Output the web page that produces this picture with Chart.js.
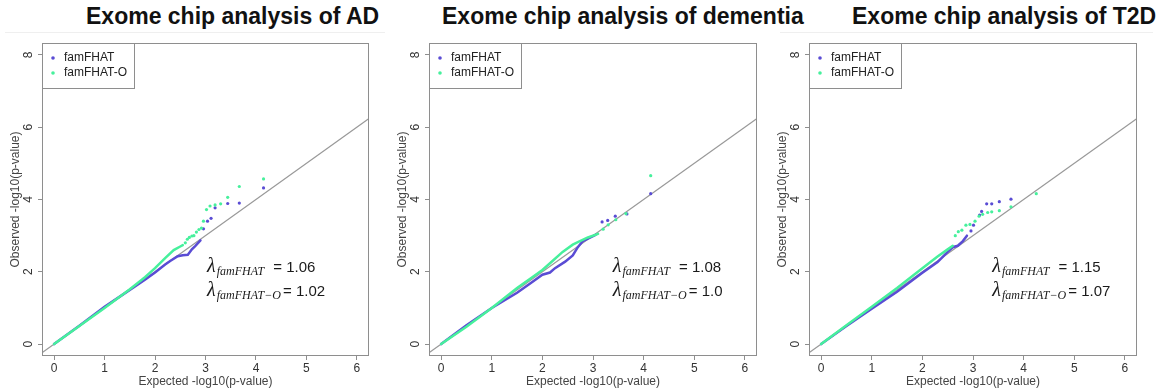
<!DOCTYPE html>
<html>
<head>
<meta charset="utf-8">
<script src="https://cdn.jsdelivr.net/npm/chart.js@4.4.1/dist/chart.umd.min.js"></script>
<style>
  body { margin: 0; background: #fff; width: 1163px; height: 392px; position: relative; overflow: hidden;
         font-family: "Liberation Sans", Arial, sans-serif; }
  .title { position: absolute; top: 5px; font-weight: bold; font-size: 23px; line-height: 23px; color: #111; white-space: nowrap; }
  .rule { position: absolute; top: 32px; height: 1px; background: #efefef; }
  canvas { position: absolute; top: 0; }
</style>
</head>
<body>
<div class="rule" style="left:5px;width:380px"></div>
<div class="rule" style="left:780px;width:373px"></div>
<div class="title" id="title0" style="left:86px"></div>
<div class="title" id="title1" style="left:442px"></div>
<div class="title" id="title2" style="left:852px"></div>
<canvas id="qq0" width="390" height="392" style="left:0"></canvas>
<canvas id="qq1" width="390" height="392" style="left:387px"></canvas>
<canvas id="qq2" width="396" height="392" style="left:767px"></canvas>
<script>
const panelTitles = ['Exome chip analysis of AD', 'Exome chip analysis of dementia', 'Exome chip analysis of T2D'];
const seriesNames = ['famFHAT', 'famFHAT-O'];
const xTicks = [0, 1, 2, 3, 4, 5, 6];
const yTicks = [0, 2, 4, 6, 8];
const xTitle = 'Expected -log10(p-value)';
const yTitle = 'Observed -log10(p-value)';

// [expected, observed] pairs; "Line" = dense body of the QQ curve, "Pts" = upper tail
const adFamLine  = [[0,0],[0.5,0.51],[1,1.03],[1.5,1.5],[1.8,1.78],[2,1.98],[2.2,2.2],[2.3,2.3],[2.45,2.43],[2.55,2.46],[2.65,2.47],[2.73,2.62],[2.8,2.72],[2.9,2.87]];
const adFamPts   = [[2.96,3.19],[3.04,3.4],[3.11,3.48],[3.19,3.77],[3.44,3.89],[3.67,3.9],[4.15,4.32]];
const adFamOLine = [[0,0],[0.5,0.5],[1,1.0],[1.5,1.52],[1.8,1.85],[2,2.1],[2.2,2.38],[2.37,2.6],[2.5,2.7],[2.55,2.74]];
const adFamOPts  = [[2.6,2.8],[2.64,2.9],[2.68,2.95],[2.73,2.99],[2.77,3.0],[2.82,3.1],[2.87,3.17],[2.92,3.21],[2.96,3.4],[3.02,3.72],[3.09,3.82],[3.19,3.85],[3.3,3.88],[3.44,4.06],[3.67,4.36],[4.15,4.57]];

const demFamLine  = [[0,0],[0.5,0.52],[1,1.0],[1.5,1.42],[1.8,1.72],[2,1.92],[2.15,1.98],[2.25,2.1],[2.45,2.28],[2.6,2.45],[2.7,2.68],[2.8,2.85],[2.9,2.92],[3.05,3.02]];
const demFamPts   = [[3.18,3.38],[3.29,3.42],[3.44,3.54],[3.67,3.6],[4.14,4.16]];
const demFamOLine = [[0,0],[0.5,0.48],[1,1.0],[1.5,1.55],[1.8,1.85],[2,2.05],[2.2,2.3],[2.4,2.55],[2.6,2.75],[2.7,2.82],[2.9,2.95],[3.1,3.05]];
const demFamOPts  = [[3.2,3.18],[3.3,3.3],[3.45,3.44],[3.65,3.61],[4.14,4.66]];

const t2dFamLine  = [[0,0],[0.5,0.5],[1,0.98],[1.5,1.45],[2,1.97],[2.3,2.27],[2.5,2.55],[2.6,2.68],[2.7,2.72],[2.8,2.85],[2.88,3.0]];
const t2dFamPts   = [[2.96,3.13],[3.01,3.29],[3.13,3.57],[3.17,3.67],[3.27,3.88],[3.37,3.88],[3.52,3.94],[3.75,4.01]];
const t2dFamOLine = [[0,0],[0.5,0.52],[1,1.03],[1.5,1.55],[2,2.1],[2.3,2.42],[2.5,2.62],[2.6,2.72]];
const t2dFamOPts  = [[2.65,3.0],[2.71,3.11],[2.78,3.15],[2.86,3.29],[2.94,3.31],[3.04,3.4],[3.12,3.54],[3.19,3.59],[3.29,3.64],[3.37,3.66],[3.52,3.69],[3.75,3.8],[4.25,4.16]];

// genomic inflation factors shown in each panel
const adLambda  = ['1.06', '1.02'];
const demLambda = ['1.08', '1.0'];
const t2dLambda = ['1.15', '1.07'];

const purple = '#5a4cd4';
const green = '#46f09c';
const fontFamily = "'Liberation Sans', Arial, sans-serif";
const xLim = [-0.24, 6.24];
const yLim = [-0.33, 8.33];

const panels = [
  { canvas: 'qq0', right: 21, fam: [adFamLine, adFamPts], famO: [adFamOLine, adFamOPts], lambda: adLambda, labelAt: [3.03, 1.99] },
  { canvas: 'qq1', right: 20, fam: [demFamLine, demFamPts], famO: [demFamOLine, demFamOPts], lambda: demLambda, labelAt: [3.39, 1.99] },
  { canvas: 'qq2', right: 26, fam: [t2dFamLine, t2dFamPts], famO: [t2dFamOLine, t2dFamOPts], lambda: t2dLambda, labelAt: [3.38, 1.99] }
];

function toXY(pairs) {
  return pairs.map(p => ({ x: p[0], y: p[1] }));
}

// box around the plot region plus the boxed legend in the top-left corner
const framePlugin = {
  id: 'rFrame',
  afterDraw(chart) {
    const { ctx, chartArea: a } = chart;
    ctx.save();
    ctx.strokeStyle = '#8e8e8e';
    ctx.lineWidth = 1;
    ctx.strokeRect(a.left + 0.5, a.top + 0.5, a.width - 1, a.height - 1);
    ctx.strokeRect(a.left + 0.5, a.top + 0.5, 92, 45);
    const cols = [purple, green];
    seriesNames.forEach((name, i) => {
      const cy = a.top + 15 + i * 15;
      ctx.fillStyle = cols[i];
      ctx.beginPath();
      ctx.arc(a.left + 11, cy, 1.8, 0, Math.PI * 2);
      ctx.fill();
      ctx.fillStyle = '#222';
      ctx.font = '12px ' + fontFamily;
      ctx.textBaseline = 'middle';
      ctx.textAlign = 'left';
      ctx.fillText(name, a.left + 22, cy);
    });
    ctx.restore();
  }
};

// lambda_famFHAT = ... annotations
const lambdaPlugin = {
  id: 'lambdaText',
  afterDraw(chart, args, opts) {
    const { ctx, scales: { x, y } } = chart;
    const x0 = x.getPixelForValue(opts.at[0]);
    const subs = ['famFHAT', 'famFHAT\u2212O'];
    const gaps = [9, 2];
    ctx.save();
    ctx.fillStyle = '#1a1a1a';
    ctx.textBaseline = 'alphabetic';
    ctx.textAlign = 'left';
    subs.forEach((sub, i) => {
      const yb = Math.round(y.getPixelForValue(opts.at[1]) + i * 24);
      ctx.font = 'italic 20px "Liberation Serif", "DejaVu Serif", serif';
      ctx.fillText('\u03bb', x0, yb);
      const lw = ctx.measureText('\u03bb').width;
      ctx.font = 'italic 12px "Liberation Serif", "DejaVu Serif", serif';
      ctx.fillText(sub, x0 + lw + 1, yb + 3);
      const sw = ctx.measureText(sub).width;
      ctx.font = '15px ' + fontFamily;
      ctx.fillText('= ' + opts.values[i], x0 + lw + 1 + sw + gaps[i], yb);
    });
    ctx.restore();
  }
};

function buildPanel(p) {
  const datasets = [
    { data: [{ x: xLim[0], y: xLim[0] }, { x: xLim[1] + 1, y: xLim[1] + 1 }], showLine: true,
      borderColor: '#999', borderWidth: 1.2, pointRadius: 0, order: 5 },
    { data: toXY(p.fam[0]), showLine: true, borderColor: purple, borderWidth: 2.5,
      borderCapStyle: 'round', pointRadius: 0, order: 4 },
    { label: seriesNames[0], data: toXY(p.fam[1]), backgroundColor: purple, borderWidth: 0, pointRadius: 1.6, order: 3 },
    { data: toXY(p.famO[0]), showLine: true, borderColor: green, borderWidth: 2.5,
      borderCapStyle: 'round', pointRadius: 0, order: 2 },
    { label: seriesNames[1], data: toXY(p.famO[1]), backgroundColor: green, borderWidth: 0, pointRadius: 1.6, order: 1 }
  ];

  new Chart(document.getElementById(p.canvas), {
    type: 'scatter',
    data: { datasets: datasets },
    plugins: [framePlugin, lambdaPlugin],
    options: {
      responsive: false,
      animation: false,
      events: [],
      layout: { padding: { top: 43, right: p.right, bottom: 0, left: 0 } },
      plugins: {
        legend: { display: false },
        tooltip: { enabled: false },
        lambdaText: { at: p.labelAt, values: p.lambda }
      },
      scales: {
        x: {
          type: 'linear', min: xLim[0], max: xLim[1],
          afterBuildTicks: s => { s.ticks = xTicks.map(v => ({ value: v })); },
          afterFit: s => { s.height = 36; },
          border: { display: false },
          grid: { drawOnChartArea: false, drawTicks: true, tickLength: 4, color: '#8e8e8e' },
          ticks: { color: '#333', padding: 1, maxRotation: 0, font: { family: fontFamily, size: 12 } },
          title: { display: true, text: xTitle, color: '#444', padding: { top: 0, bottom: 3 },
                   font: { family: fontFamily, size: 12 } }
        },
        y: {
          type: 'linear', min: yLim[0], max: yLim[1],
          afterBuildTicks: s => { s.ticks = yTicks.map(v => ({ value: v })); },
          afterFit: s => { s.width = 42; },
          border: { display: false },
          grid: { drawOnChartArea: false, drawTicks: true, tickLength: 4, color: '#8e8e8e' },
          ticks: { color: '#333', padding: 6, minRotation: 90, maxRotation: 90, crossAlign: 'center',
                   font: { family: fontFamily, size: 12 } },
          title: { display: true, text: yTitle, color: '#444', padding: { top: 8, bottom: 0 },
                   font: { family: fontFamily, size: 12 } }
        }
      }
    }
  });
}

panelTitles.forEach((t, i) => { document.getElementById('title' + i).textContent = t; });
panels.forEach(buildPanel);
</script>
</body>
</html>
